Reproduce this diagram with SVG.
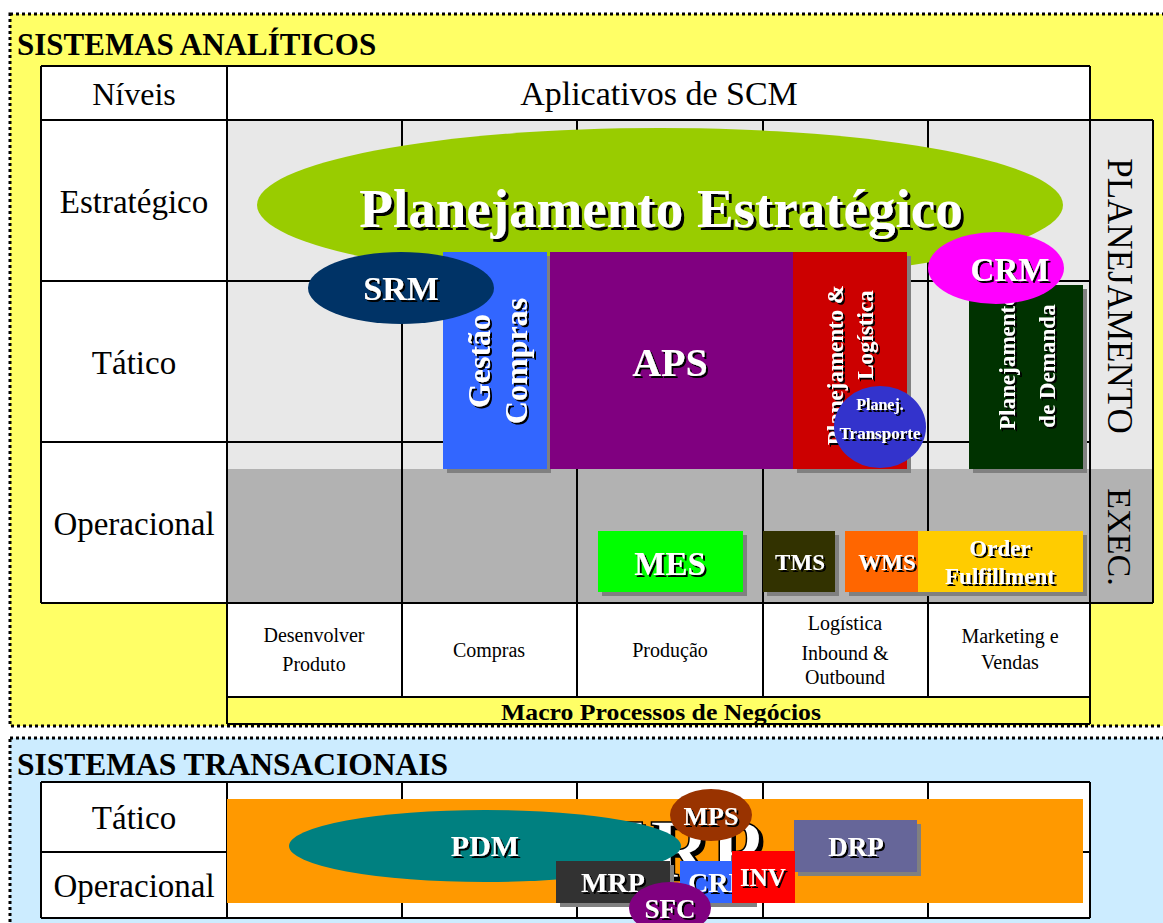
<svg xmlns="http://www.w3.org/2000/svg" width="1163" height="923" viewBox="0 0 1163 923">
<style>
text{font-family:"Liberation Serif","Times New Roman",serif;}
.w{fill:#fff;font-weight:bold;text-anchor:middle;}
.k{fill:#000;text-anchor:middle;}
.b{font-weight:bold;}
.ln{stroke:#000;stroke-width:2;fill:none;}
.dot{stroke:#000;stroke-width:3;stroke-dasharray:3 3;}
</style>
<defs>
<filter id="ts" x="-20%" y="-20%" width="140%" height="140%"><feDropShadow dx="2" dy="2" stdDeviation="0" flood-color="#000" flood-opacity="1"/></filter>
<filter id="ts3" x="-20%" y="-20%" width="140%" height="140%"><feDropShadow dx="3" dy="3" stdDeviation="0" flood-color="#000" flood-opacity="1"/></filter>
<filter id="bs" x="-10%" y="-10%" width="130%" height="130%"><feDropShadow dx="4" dy="4" stdDeviation="0" flood-color="#808080" flood-opacity="1"/></filter>
</defs>
<rect width="1163" height="923" fill="#fff"/>

<!-- ANALITICOS section -->
<g id="analiticos">
<rect class="dot" x="10" y="14" width="1170" height="712" fill="#FFFF66"/>
<text x="17" y="55" font-size="31" class="b">SISTEMAS ANALÍTICOS</text>
<rect x="41" y="66" width="186" height="537" fill="#fff"/>
<rect x="227" y="66" width="863" height="54" fill="#fff"/>
<rect x="227" y="120" width="926" height="349" fill="#E8E8E8"/>
<rect x="227" y="469" width="926" height="134" fill="#B2B2B2"/>
<rect x="227" y="603" width="863" height="94" fill="#fff"/>
<rect x="227" y="697" width="863" height="27" fill="#FFFF66"/>
<path class="ln" d="M41 66H1090M41 120H1153M41 281H1090M41 442H1090M41 603H1153M227 697H1090M227 724H1090M41 66V603M227 66V724M1090 66V724M1153 120V603M402 120V697M577 120V697M763 120V697M928 120V697"/>
<text x="134" y="105" font-size="32" class="k">Níveis</text>
<text x="659" y="105" font-size="34" class="k">Aplicativos de SCM</text>
<text x="134" y="213" font-size="33" class="k">Estratégico</text>
<text x="134" y="374" font-size="33" class="k">Tático</text>
<text x="134" y="535" font-size="33" class="k">Operacional</text>
<text transform="rotate(90)" x="296" y="-1108" font-size="35" class="k">PLANEJAMENTO</text>
<text transform="rotate(90)" x="537" y="-1108" font-size="34" class="k">EXEC.</text>
<text x="314" y="642" font-size="20" class="k">Desenvolver</text>
<text x="314" y="671" font-size="20" class="k">Produto</text>
<text x="489" y="657" font-size="20" class="k">Compras</text>
<text x="670" y="657" font-size="20" class="k">Produção</text>
<text x="845" y="630" font-size="20" class="k">Logística</text>
<text x="845" y="660" font-size="20" class="k">Inbound &amp;</text>
<text x="845" y="684" font-size="20" class="k">Outbound</text>
<text x="1010" y="643" font-size="20" class="k">Marketing e</text>
<text x="1010" y="669" font-size="20" class="k">Vendas</text>
<text x="661" y="720" font-size="24" class="k b" textLength="320" lengthAdjust="spacingAndGlyphs">Macro Processos de Negócios</text>
</g>

<g id="planejamento-estrategico">
<ellipse cx="660" cy="205" rx="403" ry="77" fill="#99CC00"/>
<text x="661" y="227" font-size="55" class="w" filter="url(#ts3)">Planejamento Estratégico</text>
</g>
<g id="gestao-compras">
<rect x="443" y="252" width="104" height="217" fill="#3366FF" filter="url(#bs)"/>
<g filter="url(#ts)"><text transform="rotate(-90)" x="-361" y="490" font-size="32" class="w">Gestão</text>
<text transform="rotate(-90)" x="-361" y="527" font-size="32" class="w">Compras</text></g>
</g>
<g id="aps">
<rect x="550" y="252" width="243" height="217" fill="#800080"/>
<text x="670" y="376" font-size="40" class="w" filter="url(#ts)">APS</text>
</g>
<g id="planejamento-logistica">
<rect x="793" y="252" width="114" height="217" fill="#CC0000" filter="url(#bs)"/>
<g filter="url(#ts)"><text transform="rotate(-90)" x="-365" y="843" font-size="23" class="w">Planejamento &amp;</text>
<text transform="rotate(-90)" x="-335" y="873" font-size="23" class="w">Logística</text></g>
</g>
<g id="planej-transporte">
<ellipse cx="880" cy="427" rx="46" ry="41" fill="#3333CC"/>
<text x="880" y="410" font-size="16" class="w" filter="url(#ts)">Planej.</text>
<text x="880" y="439" font-size="17" class="w" filter="url(#ts)">Transporte</text>
</g>
<g id="planejamento-demanda">
<rect x="969" y="285" width="114" height="184" fill="#003300" filter="url(#bs)"/>
<g filter="url(#ts)"><text transform="rotate(-90)" x="-362" y="1015" font-size="23" class="w">Planejamento</text>
<text transform="rotate(-90)" x="-366" y="1055" font-size="23" class="w">de Demanda</text></g>
</g>
<g id="srm">
<ellipse cx="401" cy="288" rx="93" ry="36" fill="#003366"/>
<text x="401" y="300" font-size="34" class="w" filter="url(#ts)">SRM</text>
</g>
<g id="crm">
<ellipse cx="996" cy="268" rx="68" ry="36" fill="#FF00FF"/>
<text x="1010" y="281" font-size="33" class="w" filter="url(#ts)">CRM</text>
</g>
<g id="mes">
<rect x="598" y="531" width="145" height="61" fill="#00FF00" filter="url(#bs)"/>
<text x="670" y="575" font-size="33" class="w" filter="url(#ts)">MES</text>
</g>
<g id="tms">
<rect x="763" y="531" width="72" height="61" fill="#333300" filter="url(#bs)"/>
<text x="800" y="570" font-size="23" class="w" filter="url(#ts)">TMS</text>
</g>
<g id="wms">
<rect x="845" y="531" width="73" height="61" fill="#FF6600" filter="url(#bs)"/>
<text x="887" y="570" font-size="23" class="w" filter="url(#ts)">WMS</text>
</g>
<g id="order-fulfillment">
<rect x="918" y="531" width="165" height="61" fill="#FFCC00" filter="url(#bs)"/>
<text x="1000" y="556" font-size="23" class="w" filter="url(#ts)">Order</text>
<text x="1000" y="584" font-size="23" class="w" filter="url(#ts)">Fulfillment</text>
</g>

<!-- TRANSACIONAIS section -->
<g id="transacionais">
<rect class="dot" x="10" y="738" width="1170" height="200" fill="#CCECFF"/>
<text x="17" y="775" font-size="31.5" class="b">SISTEMAS TRANSACIONAIS</text>
<rect x="41" y="782" width="1049" height="136" fill="#fff"/>
<path class="ln" d="M41 782H1090M41 852H1090M41 918H1090M41 782V918M227 782V918M402 782V918M577 782V918M763 782V918M928 782V918M1090 782V918"/>
<text x="134" y="829" font-size="33" class="k">Tático</text>
<text x="134" y="897" font-size="33" class="k">Operacional</text>
</g>
<g id="erp">
<rect x="227" y="799" width="856" height="104" fill="#FF9900"/>
<text x="762" y="878" font-size="84" class="b" fill="#fff" stroke="#000" stroke-width="1.5" text-anchor="end" filter="url(#ts3)">ERP</text>
</g>
<g id="pdm">
<ellipse cx="485" cy="846" rx="196" ry="36" fill="#008080"/>
<text x="485" y="856" font-size="30" class="w" filter="url(#ts)">PDM</text>
</g>
<g id="mps">
<ellipse cx="711" cy="815" rx="41" ry="26" fill="#993300"/>
<text x="711" y="825" font-size="26" class="w" filter="url(#ts)">MPS</text>
</g>
<g id="drp">
<rect x="794" y="820" width="123" height="52" fill="#666699" filter="url(#bs)"/>
<text x="856" y="856" font-size="27" class="w" filter="url(#ts)">DRP</text>
</g>
<g id="mrp">
<rect x="556" y="861" width="114" height="42" fill="#333333" filter="url(#bs)"/>
<text x="613" y="892" font-size="28" class="w" filter="url(#ts)">MRP</text>
</g>
<g id="crp">
<rect x="680" y="861" width="73" height="42" fill="#3366FF" filter="url(#bs)"/>
<text x="688" y="892" font-size="28" class="b" fill="#fff" filter="url(#ts)">CRP</text>
</g>
<g id="inv">
<rect x="732" y="851" width="63" height="52" fill="#FF0000"/>
<text x="763" y="886" font-size="25" class="w" filter="url(#ts)">INV</text>
</g>
<g id="sfc">
<ellipse cx="670" cy="908" rx="41" ry="26" fill="#800080"/>
<text x="670" y="918" font-size="27" class="w" filter="url(#ts)">SFC</text>
</g>
<g id="connectors"></g>
</svg>
